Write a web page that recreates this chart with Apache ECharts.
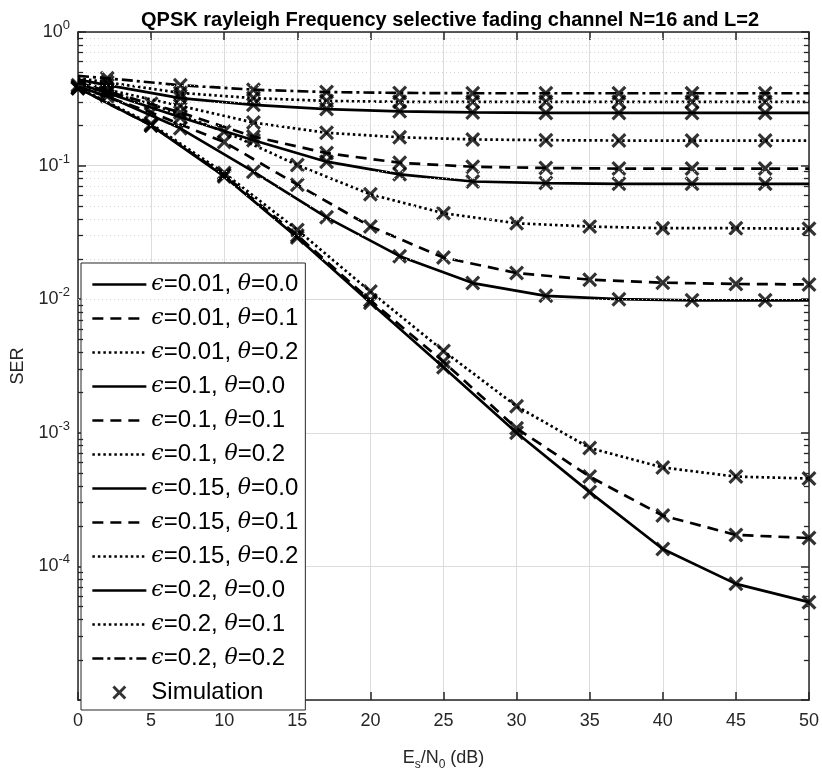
<!DOCTYPE html>
<html>
<head>
<meta charset="utf-8">
<script src="https://cdn.jsdelivr.net/npm/echarts@6/dist/echarts.min.js"></script>
<style>
html, body { margin: 0; padding: 0; background: #fff; }
#chart { width: 822px; height: 776px; }
</style>
</head>
<body>
<div id="chart"></div>
<script>
// SNR grids (dB)
const snr5 = [0, 5, 10, 15, 20, 25, 30, 35, 40, 45, 50]
const snr2 = [0, 2, 7, 12, 17, 22, 27, 32, 37, 42, 47, 50]

// eps = 0.01  (on snr5)
const serA1 = [0.38, 0.20, 0.083, 0.029, 0.0094, 0.0031, 0.0010, 0.00036, 0.000135, 0.000074, 0.000054]
const serA2 = [0.38, 0.20, 0.085, 0.030, 0.0098, 0.0034, 0.00108, 0.00047, 0.00024, 0.000172, 0.000163]
const serA3 = [0.385, 0.205, 0.088, 0.033, 0.0114, 0.0041, 0.00158, 0.00077, 0.00055, 0.00047, 0.000455]
// eps = 0.1
const serB1 = [0.39, 0.33, 0.19, 0.09, 0.041, 0.021, 0.0132, 0.0106, 0.0100, 0.0098, 0.0098, 0.0098] // snr2
const serB2 = [0.39, 0.25, 0.15, 0.072, 0.035, 0.0205, 0.0157, 0.0140, 0.0133, 0.0130, 0.0129]
const serB3 = [0.40, 0.29, 0.18, 0.101, 0.061, 0.044, 0.037, 0.035, 0.034, 0.034, 0.0337]
// eps = 0.15 (snr2)
const serC1 = [0.41, 0.35, 0.23, 0.155, 0.107, 0.086, 0.076, 0.074, 0.073, 0.073, 0.073, 0.073]
const serC2 = [0.42, 0.36, 0.25, 0.165, 0.124, 0.105, 0.098, 0.096, 0.095, 0.095, 0.095, 0.095]
const serC3 = [0.43, 0.37, 0.28, 0.21, 0.176, 0.163, 0.157, 0.155, 0.154, 0.154, 0.154, 0.154]
// eps = 0.2 (snr2)
const serD1 = [0.44, 0.40, 0.32, 0.285, 0.265, 0.255, 0.25, 0.248, 0.248, 0.248, 0.248, 0.248]
const serD2 = [0.45, 0.42, 0.35, 0.32, 0.305, 0.30, 0.30, 0.30, 0.30, 0.30, 0.30, 0.30]
const serD3 = [0.47, 0.45, 0.40, 0.37, 0.355, 0.35, 0.348, 0.348, 0.348, 0.348, 0.348, 0.348]

const names = [
  'ϵ=0.01, θ=0.0', 'ϵ=0.01, θ=0.1', 'ϵ=0.01, θ=0.2',
  'ϵ=0.1, θ=0.0', 'ϵ=0.1, θ=0.1', 'ϵ=0.1, θ=0.2',
  'ϵ=0.15, θ=0.0', 'ϵ=0.15, θ=0.1', 'ϵ=0.15, θ=0.2',
  'ϵ=0.2, θ=0.0', 'ϵ=0.2, θ=0.1', 'ϵ=0.2, θ=0.2'
]

const SOLID = 'solid', DASH = [11, 7], DOT = [2.5, 3], DASHDOT = [11, 4, 3, 4]
const curves = [
  { x: snr5, y: serA1, t: SOLID, simFrom: 0, simTo: 10 },
  { x: snr5, y: serA2, t: DASH, simFrom: 0, simTo: 10 },
  { x: snr5, y: serA3, t: DOT, simFrom: 0, simTo: 10 },
  { x: snr2, y: serB1, t: SOLID, simFrom: 1, simTo: 10 },
  { x: snr5, y: serB2, t: DASH, simFrom: 0, simTo: 10 },
  { x: snr5, y: serB3, t: DOT, simFrom: 0, simTo: 10 },
  { x: snr2, y: serC1, t: SOLID, simFrom: 1, simTo: 10 },
  { x: snr2, y: serC2, t: DASH, simFrom: 1, simTo: 10 },
  { x: snr2, y: serC3, t: DOT, simFrom: 1, simTo: 10 },
  { x: snr2, y: serD1, t: SOLID, simFrom: 1, simTo: 10 },
  { x: snr2, y: serD2, t: DOT, simFrom: 1, simTo: 10 },
  { x: snr2, y: serD3, t: DASHDOT, simFrom: 1, simTo: 10 }
]

const xMark = 'path://M0,15 L15,0 L50,35 L85,0 L100,15 L65,50 L100,85 L85,100 L50,65 L15,100 L0,85 L35,50 Z'

// minor decade positions for dotted grid and small ticks
const minorVals = []
for (let k = -5; k < 0; k++) {
  for (let m = 2; m <= 9; m++) minorVals.push(+(m * Math.pow(10, k)).toPrecision(3))
}

const series = []
curves.forEach((c, i) => {
  series.push({
    name: names[i],
    type: 'line',
    data: c.x.map((v, j) => [v, c.y[j]]),
    symbol: 'none',
    itemStyle: { color: 'rgba(0,0,0,0)' },
    lineStyle: { color: '#000', width: 2.7, type: c.t },
    z: 3
  })
})

const simData = []
curves.forEach(c => {
  for (let j = c.simFrom; j <= c.simTo; j++) simData.push([c.x[j], c.y[j]])
})
series.push({
  name: 'Simulation',
  type: 'scatter',
  data: simData,
  symbol: xMark,
  symbolSize: 15,
  itemStyle: { color: '#000' },
  clip: false,
  z: 4
})

// minor grid + minor ticks
series.push({
  type: 'line',
  data: [],
  z: 1,
  silent: true,
  markLine: {
    silent: true,
    symbol: 'none',
    label: { show: false },
    lineStyle: { color: '#d4d4d4', width: 1, type: [1, 3] },
    data: minorVals.map(v => ({ yAxis: v }))
  }
})
series.push({
  type: 'line',
  data: [],
  z: 5,
  silent: true,
  markLine: {
    silent: true,
    symbol: 'none',
    label: { show: false },
    lineStyle: { color: '#262626', width: 1.3, type: 'solid' },
    data: minorVals.map(v => [{ coord: [0, v] }, { coord: [0.35, v] }])
      .concat(minorVals.map(v => [{ coord: [49.65, v] }, { coord: [50, v] }]))
  }
})

const axisCol = '#262626'
const font = "'Liberation Sans', Arial, sans-serif"

const chart = echarts.init(document.getElementById('chart'))
chart.setOption({
  animation: false,
  backgroundColor: '#fff',
  title: {
    text: 'QPSK rayleigh Frequency selective fading channel N=16 and L=2',
    left: 445,
    textAlign: 'center',
    top: 5,
    textStyle: { fontFamily: font, fontSize: 20, fontWeight: 'bold', color: '#000' }
  },
  grid: { left: 78, top: 32, width: 735, height: 678 },
  legend: {
    data: names.concat(['Simulation']),
    orient: 'vertical',
    left: 81,
    top: 263,
    padding: [8, 7, 4, 10],
    itemWidth: 54,
    itemHeight: 14,
    itemGap: 7,
    backgroundColor: '#fff',
    borderColor: '#262626',
    borderWidth: 1,
    borderRadius: 0,
    lineStyle: { width: 2.7 },
    formatter: n => n.replace(/([ϵθ])/g, '{g|$1}'),
    textStyle: {
      fontFamily: font, fontSize: 24, color: '#000', lineHeight: 27,
      rich: {
        g: { fontFamily: "'DejaVu Serif', serif", fontStyle: 'italic', fontSize: 22, color: '#000', lineHeight: 27 }
      }
    }
  },
  xAxis: [{
    type: 'value', min: 0, max: 50, interval: 5, position: 'bottom',
    axisLine: { show: true, onZero: false, lineStyle: { color: axisCol, width: 1.5 } },
    axisTick: { show: true, inside: true, length: 8, lineStyle: { color: axisCol, width: 1.5 } },
    axisLabel: { color: axisCol, fontSize: 18, margin: 12, fontFamily: font },
    splitLine: { show: true, lineStyle: { color: '#dcdcdc', width: 1 } },
    name: '{n|E}{sub|s}{n|/N}{sub|0}{n| (dB)}',
    nameLocation: 'middle',
    nameGap: 45,
    nameTextStyle: {
      rich: {
        n: { fontFamily: font, fontSize: 18, color: axisCol, lineHeight: 26 },
        sub: { fontFamily: font, fontSize: 12, color: axisCol, verticalAlign: 'bottom', lineHeight: 12 }
      }
    }
  }, {
    type: 'value', min: 0, max: 50, interval: 5, position: 'top',
    axisLine: { show: true, onZero: false, lineStyle: { color: axisCol, width: 1.5 } },
    axisTick: { show: true, inside: true, length: 8, lineStyle: { color: axisCol, width: 1.5 } },
    axisLabel: { show: false },
    splitLine: { show: false }
  }],
  yAxis: [{
    type: 'log', logBase: 10, min: 1e-5, max: 1, position: 'left',
    axisLine: { show: true, onZero: false, lineStyle: { color: axisCol, width: 1.5 } },
    axisTick: { show: true, inside: true, length: 8, lineStyle: { color: axisCol, width: 1.5 } },
    axisLabel: {
      margin: 8,
      formatter: v => {
        const e = Math.round(Math.log10(v))
        if (e <= -5) return ''
        return '{b|10}{s|' + e + '}'
      },
      rich: {
        b: { fontFamily: font, fontSize: 18, color: axisCol, lineHeight: 26 },
        s: { fontFamily: font, fontSize: 13, color: axisCol, verticalAlign: 'top', lineHeight: 12 }
      }
    },
    splitLine: { show: true, lineStyle: { color: '#dcdcdc', width: 1 } },
    name: 'SER',
    nameLocation: 'middle',
    nameGap: 43,
    nameTextStyle: { fontFamily: font, fontSize: 18, color: axisCol }
  }, {
    type: 'log', logBase: 10, min: 1e-5, max: 1, position: 'right',
    axisLine: { show: true, onZero: false, lineStyle: { color: axisCol, width: 1.5 } },
    axisTick: { show: true, inside: true, length: 8, lineStyle: { color: axisCol, width: 1.5 } },
    axisLabel: { show: false },
    splitLine: { show: false }
  }],
  series: series
})
</script>
</body>
</html>
